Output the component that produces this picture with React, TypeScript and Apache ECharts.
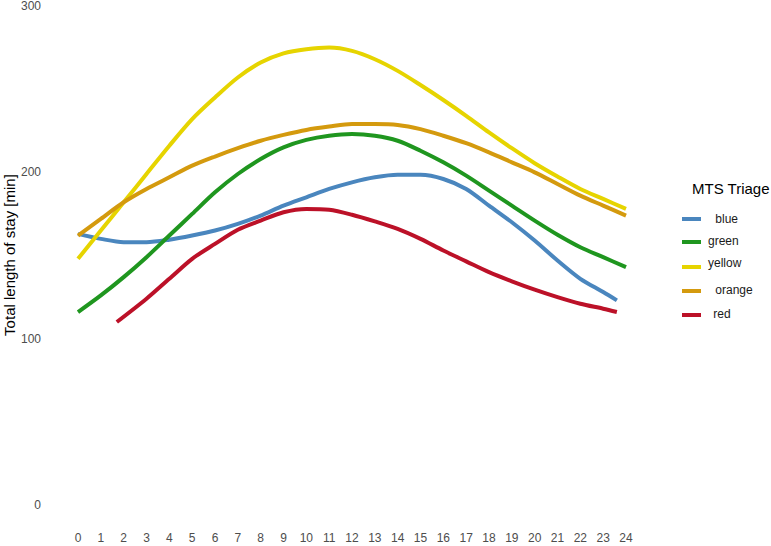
import React, { useEffect, useRef } from "react";
import * as echarts from "echarts";

const xTicks = [0, 24];
const yTicks = [0, 300, 100];

const blueHours = [0, 1, 2, 3, 4, 5, 6, 7, 8, 9, 10, 11, 12, 13, 14, 15, 16, 17, 18, 19, 20, 21, 22, 23, 23.6];
const blueValues = [163, 160, 158, 158, 159.5, 162, 165, 169, 174, 180, 185, 190, 194, 197, 198.5, 198.5, 196, 190, 180, 170, 159, 147, 136, 128, 123];

const greenHours = [0, 1, 2, 3, 4, 5, 6, 7, 8, 9, 10, 11, 12, 13, 14, 15, 16, 17, 18, 19, 20, 21, 22, 23, 24];
const greenValues = [116, 126, 137, 149, 162, 175, 188, 199, 208, 215, 219.5, 222, 223, 222, 219, 213, 206, 198, 189, 180, 171, 162.5, 155, 149, 143];

const yellowHours = [0, 1, 2, 3, 4, 5, 6, 7, 8, 9, 10, 11, 12, 13, 14, 15, 16, 17, 18, 19, 20, 21, 22, 23, 24];
const yellowValues = [148, 165, 182, 199, 216, 232, 245, 257, 266, 271.5, 274, 275, 273, 268, 261, 252.5, 243.5, 234, 224, 214.5, 205.5, 197.5, 190, 184, 178];

const orangeHours = [0, 1, 2, 3, 4, 5, 6, 7, 8, 9, 10, 11, 12, 13, 14, 15, 16, 17, 18, 19, 20, 21, 22, 23, 24];
const orangeValues = [162, 172, 182, 190, 197, 204, 209.5, 214.5, 219, 222.5, 225.5, 227.5, 229, 229, 228.5, 226, 222, 217.5, 212, 206, 200, 193, 186, 180, 174];

const redHours = [1.7, 3, 4, 5, 6, 7, 8, 9, 10, 11, 12, 13, 14, 15, 16, 17, 18, 19, 20, 21, 22, 23, 23.6];
const redValues = [110, 124, 136, 148, 157, 165.5, 171, 176, 178, 177.5, 174.5, 170.5, 166, 160, 153, 146.5, 140, 134.5, 129.5, 125, 121, 118, 116];

const seriesNames = ["blue", "green", "yellow", "orange", "red"];
const legendLabels = [" blue", "green", "yellow", " orange", " red"];
const seriesColors = ["#4A86BE", "#1F961F", "#E6D400", "#D49A0E", "#BC1128"];

const legendTitle = "MTS Triage";
const yTitle = "Total length of stay [min]";

const FONT = "'Liberation Sans', Arial, Helvetica, sans-serif";

export default function App() {
  const ref = useRef<HTMLDivElement>(null);
  useEffect(() => {
    if (!ref.current) return;
    const chart = echarts.init(ref.current, undefined, { renderer: "svg" });
    const hoursList = [blueHours, greenHours, yellowHours, orangeHours, redHours];
    const valuesList = [blueValues, greenValues, yellowValues, orangeValues, redValues];
    const series = seriesNames.map((name, i) => ({
      name,
      type: "line",
      data: hoursList[i].map((h, j) => [h, valuesList[i][j]]),
      showSymbol: false,
      smooth: 0.3,
      lineStyle: { width: 4, color: seriesColors[i], cap: "butt" },
      itemStyle: { color: seriesColors[i] },
      z: 2 + i,
    }));
    const keyY = [219, 242, 267, 291, 315];
    const textY = [219, 241, 263, 290, 314];
    const textX = [712, 708, 708, 712, 710];
    const legendGraphics: any[] = [
      {
        type: "text",
        left: 692,
        top: 181,
        style: { text: legendTitle, font: `15px ${FONT}`, fill: "#000" },
      },
      {
        type: "text",
        x: 9,
        y: 255,
        rotation: Math.PI / 2,
        style: {
          text: yTitle,
          font: `15px ${FONT}`,
          fill: "#000",
          align: "center",
          verticalAlign: "middle",
        },
      },
    ];
    seriesNames.forEach((_, i) => {
      legendGraphics.push({
        type: "line",
        shape: { x1: 682, y1: keyY[i], x2: 701, y2: keyY[i] },
        style: { stroke: seriesColors[i], lineWidth: 4 },
      });
      legendGraphics.push({
        type: "text",
        x: textX[i],
        y: textY[i],
        style: {
          text: legendLabels[i],
          font: `12px ${FONT}`,
          fill: "#1a1a1a",
          verticalAlign: "middle",
        },
      });
    });
    chart.setOption({
      animation: false,
      backgroundColor: "#ffffff",
      grid: { left: 78, right: 145, top: 5, bottom: 41, containLabel: false },
      xAxis: {
        type: "value",
        min: xTicks[0],
        max: xTicks[1],
        interval: 1,
        axisLine: { show: false },
        axisTick: { show: false },
        splitLine: { show: false },
        axisLabel: { color: "#4d4d4d", fontSize: 12, fontFamily: FONT, margin: 27 },
      },
      yAxis: {
        type: "value",
        min: yTicks[0],
        max: yTicks[1],
        interval: yTicks[2],
        axisLine: { show: false },
        axisTick: { show: false },
        splitLine: { show: false },
        axisLabel: { color: "#4d4d4d", fontSize: 12, fontFamily: FONT, margin: 37 },
      },
      series,
      graphic: legendGraphics,
    });
    return () => chart.dispose();
  }, []);
  return <div ref={ref} style={{ width: 771, height: 546, position: "absolute", left: 0, top: 0 }} />;
}
